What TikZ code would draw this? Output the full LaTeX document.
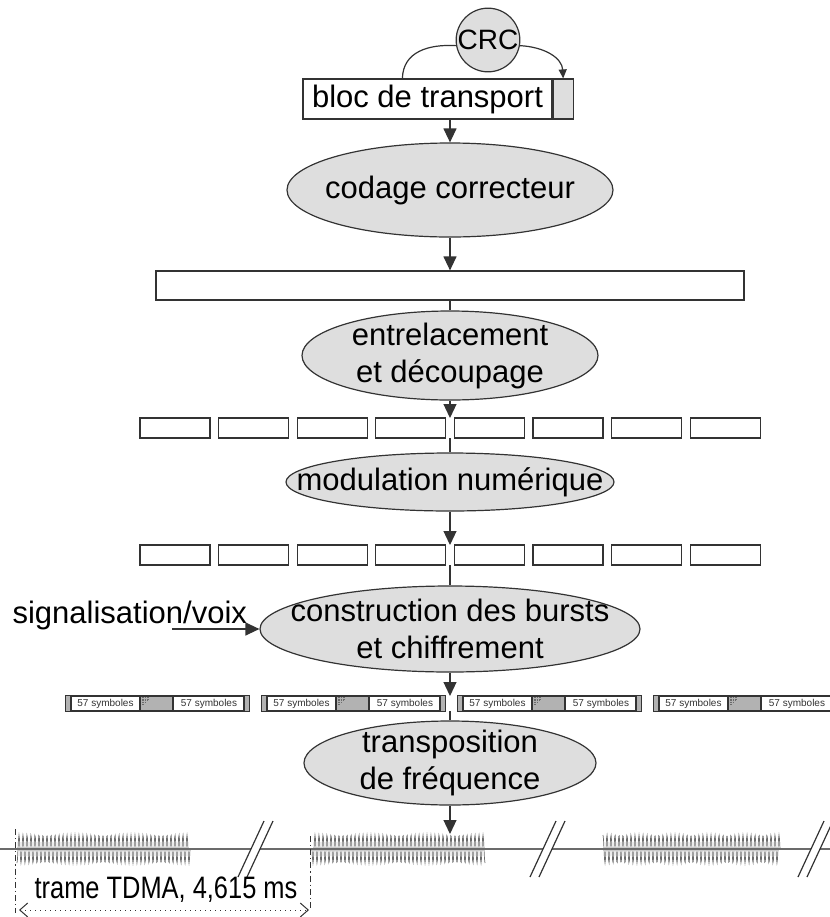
\documentclass[tikz,border=0pt]{standalone}
\usepackage{fontspec}
\setmainfont{Liberation Sans}
\usepackage{graphicx}
\usetikzlibrary{arrows.meta,shapes.geometric}
\definecolor{LineClr}{rgb}{0.2,0.2,0.2}
\definecolor{FillClr}{rgb}{0.87,0.87,0.87}
\definecolor{TrainClr}{rgb}{0.7,0.7,0.7}
\definecolor{WaveClr}{rgb}{0.42,0.42,0.42}

\begin{document}
\begin{tikzpicture}[x=0.5pt,y=-0.5pt,line width=0.6pt,
  txt/.style={font=\fontsize{15.5}{18.5}\selectfont,align=center,inner sep=0pt},
  proc/.style={ellipse,draw=LineClr,fill=FillClr,inner sep=0pt},
  box/.style={rectangle,draw=LineClr,fill=white,inner sep=0pt},
  slot/.style={box,minimum width=35pt,minimum height=10pt},
  burst/.style={box,minimum width=91.5pt,minimum height=7.5pt},
  symtxt/.style={font=\fontsize{5}{6}\selectfont,inner sep=0pt,text=LineClr},
  flow/.style={draw=LineClr,-{Triangle[length=7pt,width=6.5pt]}},
  link/.style={draw=LineClr},
  sigline/.style={draw=WaveClr,line width=0.7pt},
  wave/.style={draw=WaveClr,line width=0.35pt},
  marker/.style={draw=LineClr,line width=0.5pt,dash pattern=on 3pt off 1.5pt on 0.6pt off 1.5pt},
  span/.style={draw=LineClr,line width=0.5pt,dotted,{Straight Barb[length=4pt,width=7pt]}-{Straight Barb[length=4pt,width=7pt]}}]
\useasboundingbox (0,0) rectangle (830,917);
\clip (0,0) rectangle (830,917);

% bloc de transport et CRC
\node[circle,draw=LineClr,fill=FillClr,minimum size=30pt,inner sep=0pt,font=\fontsize{14}{16}\selectfont] (crc) at (488,40) {CRC};
\node[box,txt,minimum width=124.5pt,minimum height=20pt] (bloc) at (427.5,99) {bloc de transport};
\node[box,fill=FillClr,minimum width=10pt,minimum height=20pt,anchor=west] (crcbox) at (bloc.east) {};
\draw[link] ([xshift=50pt]bloc.north west) .. controls (403,52) and (428,44) .. (crc.190);
\draw[link,-{Triangle[length=4.5pt,width=4pt]}] (crc.-10) .. controls (545,47) and (562,58) .. (crcbox.north);

% chaine de traitement
\node[proc,minimum width=163pt,minimum height=47pt] (cod) at (450,190) {};
\node[txt] (codT) at (cod) {codage correcteur};
\node[box,minimum width=294pt,minimum height=14.5pt] (bloc2) at (450,285.5) {};
\node[proc,minimum width=148pt,minimum height=44.5pt] (ent) at (450,355.5) {};
\node[txt] (entT) at (ent) {entrelacement\\et découpage};
\foreach \i in {0,...,7}{
  \node[slot] (ra\i) at ({175+78.6*\i},428) {};
  \node[slot] (rb\i) at ({175+78.6*\i},555) {};
}
\coordinate (ratop) at (450,418); \coordinate (rabot) at (450,438);
\node[proc,minimum width=164pt,minimum height=29pt] (mod) at (450,482) {};
\node[txt] (modT) at (mod) {modulation numérique};
\coordinate (rbtop) at (450,545); \coordinate (rbbot) at (450,565);
\node[proc,minimum width=190pt,minimum height=43pt] (cons) at (450,629) {};
\node[txt] (consT) at (cons) {construction des bursts\\et chiffrement};
\node[txt,anchor=base west] (sig) at (12,623) {signalisation/voix};
\coordinate (sigA) at (172,629);

% bursts
\foreach \i/\bx in {0/66,1/262,2/458,3/654}{
  \node[burst] (bu\i) at ({\bx+91.5},703.5) {};
  \fill[TrainClr] (\bx,696) rectangle ++(5,15) ({\bx+178},696) rectangle ++(5,15);
  \draw[link,fill=TrainClr] ({\bx+74},696) rectangle ({\bx+107},711);
  \draw[link] ({\bx+5},696) -- ++(0,15) ({\bx+178},696) -- ++(0,15);
  \draw[link] (bu\i.north west) rectangle (bu\i.south east);
  \foreach \k in {0,...,4}
    \draw[WaveClr,line width=0.3pt,dash pattern=on 0.6pt off 0.6pt] ({\bx+76+1.6*\k},697) -- ++(0,{9-1.6*\k});
  \node[symtxt] (sa\i) at ({\bx+39.5},703.5) {57 symboles};
  \node[symtxt] (sb\i) at ({\bx+143},703.5) {57 symboles};
}
\coordinate (butop) at (450,696); \coordinate (bubot) at (450,711);
\node[proc,minimum width=146pt,minimum height=42pt] (tra) at (450,763) {};
\node[txt] (traT) at (tra) {transposition\\de fréquence};

% signal emis
\coordinate (sigtop) at (450,834);
\draw[sigline] (0,849) -- (830,849);
\foreach \a/\b in {17/190,312/485,603/780}
  \draw[wave] plot[domain=\a:\b,samples=350] (\x,{849+14*sin(90*mod(\x,4))});
\foreach \u in {238,530,798}{
  \fill[white] (\u,877) -- ({\u+26},821) -- ({\u+35},821) -- ({\u+9},877) -- cycle;
  \draw[link] (\u,877) -- ({\u+26},821) ({\u+9},877) -- ({\u+35},821);
}
\draw[marker] (15,829) -- (15,913);
\draw[marker] (310,836) -- (310,908);
\node[txt,anchor=base] (tdma) at (166,898) {\scalebox{0.82}[1]{trame TDMA, 4,615 ms}};
\coordinate (spL) at (19,910); \coordinate (spR) at (309,910);
\draw[span] (spL) -- (spR);

% liaisons
\draw[flow] (cod.north |- bloc.south) -- (cod.north);
\draw[flow] (cod.south) -- (bloc2.north);
\draw[link] (bloc2.south) -- (ent.north);
\draw[flow] (ent.south) -- (ratop);
\draw[link] (rabot) -- (mod.north);
\draw[flow] (mod.south) -- (rbtop);
\draw[link] (rbbot) -- (cons.north);
\draw[flow] (sigA) -- (cons.west);
\draw[flow] (cons.south) -- (butop);
\draw[link] (bubot) -- (tra.north);
\draw[flow] (tra.south) -- (sigtop);

\end{tikzpicture}
\end{document}
